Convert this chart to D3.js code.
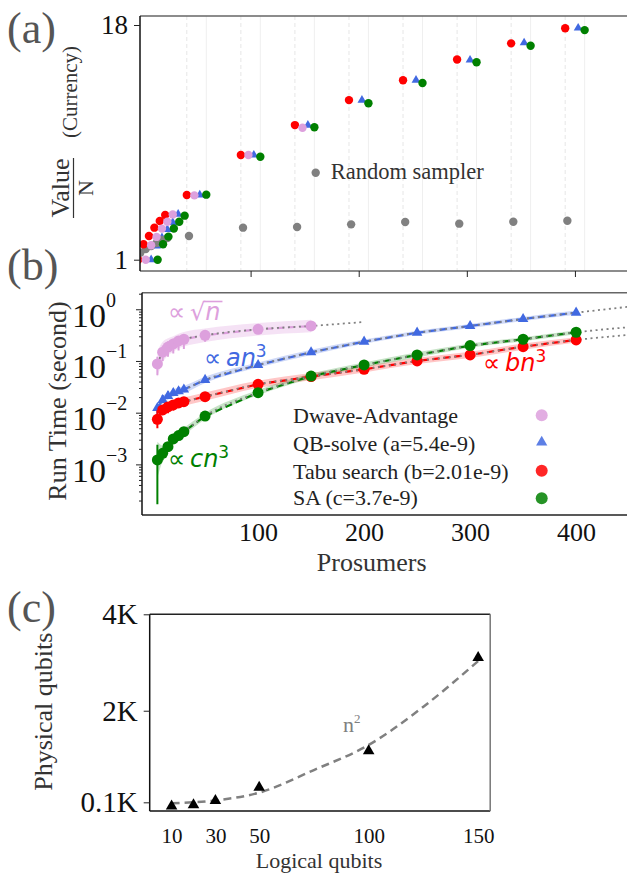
<!DOCTYPE html>
<html>
<head>
<meta charset="utf-8">
<script src="https://cdn.jsdelivr.net/npm/d3@7"></script>
<style>
    body { margin: 0; background: #fff; }
    text { font-family: "Liberation Serif", "Times New Roman", serif; }
    .math { font-family: "DejaVu Sans", sans-serif; font-style: italic; }
</style>
</head>
<body>
<div id="chart"></div>
<script>
// ---------------- data ----------------
// panel (a): value per prosumer, grouped by number of prosumers
const nA = [5, 10, 15, 20, 25, 30, 50, 100, 150, 200, 250, 300, 350, 400];
const tabuA = [1.0, 2.12, 2.72, 3.32, 3.80, 4.24, 5.69, 8.58, 10.75, 12.56, 14.0, 15.5, 16.67, 17.76];
const dwaveA = [1.0, 2.05, 2.65, 3.25, 3.75, 4.28, 5.66, 8.58, 10.56];
const qbsolveA = [1.0, 2.0, 2.6, 3.2, 3.7, 4.3, 5.69, 8.58, 10.75, 12.56, 14.0, 15.46, 16.71, 17.78];
const saA = [1.0, 2.12, 2.67, 3.26, 3.75, 4.19, 5.71, 8.46, 10.59, 12.33, 13.8, 15.3, 16.5, 17.63];
const randomA = [1.5, 1.77, 1.99, 2.21, 2.43, 2.57, 2.72, 3.32, 3.37, 3.56, 3.73, 3.61, 3.75, 3.82];

// panel (b): run time (s)
const nB = [5, 10, 15, 20, 25, 30, 50, 100, 150, 200, 250, 300, 350, 400];
const dwaveB = [0.0875, 0.148, 0.186, 0.213, 0.244, 0.263, 0.314, 0.41, 0.475];
const dwaveLo = [0.053, 0.1, 0.12, 0.14, 0.16, 0.17, 0.236, 0.38, 0.45];
const dwaveHi = [0.12, 0.2, 0.24, 0.27, 0.3, 0.32, 0.37, 0.44, 0.5];
const qbsolveB = [0.0123, 0.0176, 0.021, 0.024, 0.026, 0.028, 0.043, 0.0837, 0.147, 0.236, 0.352, 0.475, 0.649, 0.86];
const qbsolveLo = [0.0095, 0.0155, 0.019, 0.022, 0.024, 0.026, 0.041, 0.08, 0.142, 0.23, 0.345, 0.465, 0.64, 0.85];
const qbsolveHi = [0.0145, 0.022, 0.026, 0.029, 0.031, 0.032, 0.046, 0.088, 0.152, 0.242, 0.36, 0.485, 0.66, 0.87];
const tabuB = [0.00745, 0.0113, 0.0129, 0.0141, 0.0154, 0.0163, 0.0204, 0.0354, 0.05, 0.069, 0.1, 0.131, 0.189, 0.255];
const tabuLo = [0.005, 0.0092, 0.0098, 0.011, 0.0125, 0.0135, 0.019, 0.034, 0.048, 0.067, 0.097, 0.128, 0.185, 0.25];
const tabuHi = [0.0112, 0.0125, 0.0142, 0.0155, 0.0168, 0.0175, 0.0215, 0.037, 0.052, 0.071, 0.103, 0.134, 0.193, 0.26];
const saB = [0.00122, 0.00164, 0.0022, 0.0031, 0.0036, 0.0043, 0.0086, 0.0244, 0.051, 0.0837, 0.131, 0.198, 0.263, 0.359];
const saLo = [0.00017, 0.0012, 0.0019, 0.0028, 0.0033, 0.004, 0.0082, 0.0236, 0.049, 0.081, 0.127, 0.193, 0.257, 0.352];
const saHi = [0.0024, 0.0021, 0.0025, 0.0034, 0.0039, 0.0046, 0.009, 0.0252, 0.053, 0.086, 0.135, 0.203, 0.269, 0.366];

// shaded band half-width (decades)
const dwaveSpread = [0.25, 0.2, 0.17, 0.15, 0.14, 0.14, 0.13, 0.12, 0.12];
const qbsolveSpread = [0.08, 0.08, 0.07, 0.07, 0.07, 0.07, 0.06, 0.05, 0.05, 0.04, 0.04, 0.04, 0.04, 0.04];
const tabuSpread = [0.15, 0.1, 0.09, 0.09, 0.08, 0.08, 0.08, 0.07, 0.07, 0.06, 0.06, 0.06, 0.06, 0.05];
const saSpread = [0.35, 0.15, 0.1, 0.08, 0.07, 0.07, 0.06, 0.05, 0.05, 0.05, 0.05, 0.04, 0.04, 0.04];

// fit curves continued past the last point
const dwaveFitEnd = [200, 0.568];
const qbsolveFitEnd = [450, 1.12];
const tabuFitEnd = [450, 0.32];
const saFitEnd = [450, 0.45];

const legendB = ["Dwave-Advantage", "QB-solve (a=5.4e-9)", "Tabu search (b=2.01e-9)", "SA (c=3.7e-9)"];

// panel (c): embedding
const nC = [10, 20, 30, 50, 100, 150];
const physC = [20, 45, 135, 410, 1165, 3100];
const fitNC = [10, 30, 50, 75, 100, 125, 150];
const fitVC = [80, 140, 300, 770, 1290, 2083, 3030];

// ---------------- colours ----------------
const pinkC = "#DDA0DD", blueC = "#4169E1", redC = "#FF0000", greenC = "#008000", grayC = "#808080";

const W = 627, H = 873;
const svg = d3.select("#chart").append("svg").attr("width", W).attr("height", H);
const defs = svg.append("defs");

function clip(id, x0, y0, x1, y1) {
    defs.append("clipPath").attr("id", id)
        .append("rect").attr("x", x0).attr("y", y0).attr("width", x1 - x0).attr("height", y1 - y0);
}
function hline(g, x0, x1, y, c, w) {
    return g.append("line").attr("x1", x0).attr("x2", x1).attr("y1", y).attr("y2", y).attr("stroke", c).attr("stroke-width", w);
}
function vline(g, x, y0, y1, c, w) {
    return g.append("line").attr("x1", x).attr("x2", x).attr("y1", y0).attr("y2", y1).attr("stroke", c).attr("stroke-width", w);
}
function styleAxis(g, size) {
    g.select(".domain").remove();
    g.selectAll("text").attr("font-family", "Liberation Serif, serif").attr("font-size", size).attr("fill", "#111");
    g.selectAll("line").attr("stroke", "#222").attr("stroke-width", 1);
}
const tri = (s) => d3.symbol().type(d3.symbolTriangle).size(s);

// ======================= panel (a) =======================
const a = { l: 140, r: 628, t: 16, b: 271 };
const xa = d3.scaleLinear().domain([-2.3, 449]).range([140, 627.9]);
const ya = d3.scaleLinear().domain([1, 18]).range([259.7, 25]);
const dodgeA = { tabu: -9, dwave: -2, qbsolve: 3, sa: 9, random: -7 };
clip("clipA", a.l, a.t, a.r, a.b);

const gA = svg.append("g");
const gridA = gA.append("g");
nA.filter(n => n >= 50).forEach(n => {
    vline(gridA, xa(n + dodgeA.tabu), a.t, a.b, "#e6e6e6", 1).attr("stroke-dasharray", "4,3");
    vline(gridA, xa(n + dodgeA.sa), a.t, a.b, "#efefef", 1);
});

const ptsA = gA.append("g").attr("clip-path", "url(#clipA)");
ptsA.selectAll(".qa").data(qbsolveA.map((v, i) => ({ n: nA[i], v })))
    .join("path").attr("d", tri(34))
    .attr("transform", d => `translate(${xa(d.n + dodgeA.qbsolve)},${ya(d.v)})`)
    .attr("fill", blueC);
[[randomA, grayC, "random"], [tabuA, redC, "tabu"], [dwaveA, pinkC, "dwave"], [saA, greenC, "sa"]].forEach(([arr, c, k]) => {
    ptsA.append("g").selectAll("circle").data(arr.map((v, i) => ({ n: nA[i], v })))
        .join("circle")
        .attr("cx", d => xa(d.n + dodgeA[k]))
        .attr("cy", d => ya(d.v))
        .attr("r", 4.2)
        .attr("fill", c);
});

hline(gA, a.l, a.r, a.t, "#666", 1.5);
hline(gA, a.l, a.r, a.b, "#666", 1.5);
vline(gA, a.l, a.t, a.b, "#111", 1.5);

const yAxA = gA.append("g").attr("transform", `translate(${a.l},0)`)
    .call(d3.axisLeft(ya).tickValues([1, 18]).tickSize(6).tickPadding(6).tickFormat(d3.format("d")));
styleAxis(yAxA, 27);
const xAxA = gA.append("g").attr("transform", `translate(0,${a.b})`)
    .call(d3.axisBottom(xa).tickValues([100, 200, 300, 400]).tickSize(6).tickFormat(""));
styleAxis(xAxA, 20);

// random sampler legend
gA.append("circle").attr("cx", 315.7).attr("cy", 172.7).attr("r", 4.2).attr("fill", grayC);
gA.append("text").attr("x", 330.7).attr("y", 178.5).attr("font-size", 22.5).attr("fill", "#333").text("Random sampler");

// y label: Value / N (Currency)
gA.append("text").attr("transform", "translate(69,188) rotate(-90)")
    .attr("text-anchor", "middle").attr("font-size", 26).attr("fill", "#333").text("Value");
vline(gA, 73.5, 158, 218, "#333", 1.2);
gA.append("text").attr("transform", "translate(93,188) rotate(-90)")
    .attr("text-anchor", "middle").attr("font-size", 22).attr("fill", "#333").text("N");
gA.append("text").attr("transform", "translate(77,92) rotate(-90)")
    .attr("text-anchor", "middle").attr("font-size", 21).attr("fill", "#333").text("(Currency)");

// ======================= panel (b) =======================
const b = { l: 142, r: 628, t: 292.7, b: 515 };
const xb = d3.scaleLinear().domain([-9.5, 448]).range([142, 627]);
const yb = d3.scaleLog().domain([1.05e-4, 2.09]).range([515, 292.7]);
clip("clipB", b.l, b.t, b.r, b.b);

const gB = svg.append("g");
const plotB = gB.append("g").attr("clip-path", "url(#clipB)");

const seriesB = [
    { v: dwaveB, lo: dwaveLo, hi: dwaveHi, s: dwaveSpread, end: dwaveFitEnd, c: pinkC, band: 0.3, m: "circle" },
    { v: qbsolveB, lo: qbsolveLo, hi: qbsolveHi, s: qbsolveSpread, end: qbsolveFitEnd, c: blueC, band: 0.25, m: "tri" },
    { v: tabuB, lo: tabuLo, hi: tabuHi, s: tabuSpread, end: tabuFitEnd, c: redC, band: 0.22, m: "circle" },
    { v: saB, lo: saLo, hi: saHi, s: saSpread, end: saFitEnd, c: greenC, band: 0.22, m: "circle" }
];
seriesB.forEach(sr => {
    sr.pts = sr.v.map((v, i) => ({ n: nB[i], v, lo: sr.lo[i], hi: sr.hi[i], s: sr.s[i] }));
});

const areaB = d3.area().x(d => xb(d.n))
    .y0(d => yb(d.v / Math.pow(10, d.s))).y1(d => yb(d.v * Math.pow(10, d.s)))
    .curve(d3.curveMonotoneX);
const lineB = d3.line().x(d => xb(d.n)).y(d => yb(d.v));
const fitB = d3.line().x(d => xb(d.n)).y(d => yb(d.v)).curve(d3.curveMonotoneX);

seriesB.forEach(sr => {
    plotB.append("path").datum(sr.pts).attr("d", areaB).attr("fill", sr.c).attr("fill-opacity", sr.band);
});
seriesB.forEach(sr => {
    plotB.append("path").datum(sr.pts).attr("d", lineB)
        .attr("fill", "none").attr("stroke", sr.c).attr("stroke-width", 2.2).attr("stroke-dasharray", "7,4");
    plotB.append("path").datum(sr.pts.concat([{ n: sr.end[0], v: sr.end[1] }]))
        .attr("d", fitB)
        .attr("fill", "none").attr("stroke", grayC).attr("stroke-width", 1.8).attr("stroke-dasharray", "2,3.5");
});
seriesB.forEach(sr => {
    const g = plotB.append("g");
    g.selectAll("line").data(sr.pts).join("line")
        .attr("x1", d => xb(d.n)).attr("x2", d => xb(d.n))
        .attr("y1", d => yb(d.lo)).attr("y2", d => yb(d.hi))
        .attr("stroke", sr.c).attr("stroke-width", 2);
    if (sr.m === "tri") {
        g.selectAll("path").data(sr.pts).join("path").attr("d", tri(48))
            .attr("transform", d => `translate(${xb(d.n)},${yb(d.v)})`).attr("fill", sr.c);
    } else {
        g.selectAll("circle").data(sr.pts).join("circle")
            .attr("cx", d => xb(d.n)).attr("cy", d => yb(d.v)).attr("r", 5.5).attr("fill", sr.c);
    }
});

hline(gB, b.l, b.r, b.t, "#666", 1.5);
hline(gB, b.l, b.r, b.b, "#222", 1.5);
vline(gB, b.l, b.t, b.b, "#111", 1.5);

const majorsB = [1e-3, 1e-2, 1e-1, 1];
const minorsB = [];
[-4, -3, -2, -1, 0].forEach(e => d3.range(2, 10).forEach(m => {
    const v = m * Math.pow(10, e);
    if (v > 1.05e-4 && v < 2.09) minorsB.push(v);
}));
const yMinB = gB.append("g").attr("transform", `translate(${b.l},0)`)
    .call(d3.axisLeft(yb).tickValues(minorsB).tickSize(3).tickFormat(""));
styleAxis(yMinB, 10);
const yMajB = gB.append("g").attr("transform", `translate(${b.l},0)`)
    .call(d3.axisLeft(yb).tickValues(majorsB).tickSize(6).tickFormat(""));
styleAxis(yMajB, 10);
majorsB.forEach(v => {
    const e = Math.round(Math.log10(v));
    const t = gB.append("text").attr("x", 72).attr("y", yb(v) + 17.5).attr("fill", "#111");
    t.append("tspan").attr("font-size", 34).text("10");
    t.append("tspan").attr("font-size", 20).attr("dy", -20).text(e === 0 ? "0" : "\u2212" + Math.abs(e));
});

const xAxB = gB.append("g").attr("transform", `translate(0,${b.b})`)
    .call(d3.axisBottom(xb).tickValues([100, 200, 300, 400]).tickSize(0).tickPadding(8));
styleAxis(xAxB, 26);

gB.append("text").attr("transform", "translate(66,401) rotate(-90)")
    .attr("text-anchor", "middle").attr("font-size", 26).attr("fill", "#333").text("Run Time (second)");
gB.append("text").attr("x", 371.7).attr("y", 571).attr("text-anchor", "middle")
    .attr("font-size", 26).attr("fill", "#333").text("Prosumers");

// scaling annotations
function scaling(x, y, c, coef) {
    const t = gB.append("text").attr("class", "math").attr("x", x).attr("y", y)
        .attr("font-size", 24).attr("fill", c);
    t.append("tspan").attr("font-style", "normal").text("\u221D\u2009");
    t.append("tspan").text(coef + "n");
    t.append("tspan").attr("font-style", "normal").attr("font-size", 17).attr("dy", -9).text("3");
}
scaling(204, 366, blueC, "a");
scaling(168, 467, greenC, "c");
scaling(483, 371, redC, "b");

const sq = gB.append("text").attr("class", "math").attr("x", 168).attr("y", 320)
    .attr("font-size", 24).attr("fill", pinkC);
sq.append("tspan").attr("font-style", "normal").text("\u221D\u2009\u221A");
sq.append("tspan").text("n");
const sqStart = sq.node().getSubStringLength(0, 3);
const sqLen = sq.node().getComputedTextLength();
hline(gB, 168 + sqStart - 1.5, 168 + sqLen + 2, 301.5, pinkC, 1.6);

// legend
const legY = [423, 451, 478.5, 505];
const legMarkY = [415.3, 442.3, 470.7, 498.3];
legendB.forEach((lab, i) => {
    gB.append("text").attr("x", 293).attr("y", legY[i]).attr("font-size", 22).attr("fill", "#222").text(lab);
    const sr = seriesB[i];
    if (sr.m === "tri") {
        gB.append("path").attr("d", tri(55)).attr("transform", `translate(541.7,${legMarkY[i]})`)
            .attr("fill", sr.c).attr("fill-opacity", 0.85);
    } else {
        gB.append("circle").attr("cx", 541.7).attr("cy", legMarkY[i]).attr("r", 6)
            .attr("fill", sr.c).attr("fill-opacity", 0.85);
    }
});

// ======================= panel (c) =======================
const c = { l: 149.7, r: 490.2, t: 614.3, b: 811 };
const xc = d3.scaleLinear().domain([0, 155.5]).range([c.l, c.r]);
const yc = d3.scaleLinear().domain([-80, 4000]).range([c.b, c.t]);
const gC = svg.append("g");

gC.append("path").datum(fitNC.map((n, i) => ({ n, v: fitVC[i] })))
    .attr("d", d3.line().x(d => xc(d.n)).y(d => yc(d.v)).curve(d3.curveMonotoneX))
    .attr("fill", "none").attr("stroke", grayC).attr("stroke-width", 2.5).attr("stroke-dasharray", "8,5");
gC.selectAll(".tc").data(nC.map((n, i) => ({ n, v: physC[i] })))
    .join("path").attr("d", tri(58))
    .attr("transform", d => `translate(${xc(d.n)},${yc(d.v)})`).attr("fill", "#000");

hline(gC, c.l, c.r, c.t, "#222", 1.5);
hline(gC, c.l, c.r, c.b, "#111", 1.5);
vline(gC, c.l, c.t, c.b, "#111", 1.5);
vline(gC, c.r, c.t, c.b, "#777", 1.5);

const yAxC = gC.append("g").attr("transform", `translate(${c.l},0)`)
    .call(d3.axisLeft(yc).tickValues([100, 2000, 4000]).tickSize(6).tickPadding(6)
        .tickFormat(d => d === 100 ? "0.1K" : (d / 1000) + "K"));
styleAxis(yAxC, 29);
const xAxC = gC.append("g").attr("transform", `translate(0,${c.b})`)
    .call(d3.axisBottom(xc).tickValues([10, 30, 50, 100, 150]).tickSize(0).tickPadding(17));
styleAxis(xAxC, 21);

const n2 = gC.append("text").attr("x", 343).attr("y", 731.7).attr("font-size", 22).attr("fill", grayC);
n2.append("tspan").text("n");
n2.append("tspan").attr("font-size", 13).attr("dy", -9).text("2");

gC.append("text").attr("transform", "translate(52,711.7) rotate(-90)")
    .attr("text-anchor", "middle").attr("font-size", 26).attr("fill", "#333").text("Physical qubits");
gC.append("text").attr("x", 319).attr("y", 868).attr("text-anchor", "middle")
    .attr("font-size", 22).attr("fill", "#333").text("Logical qubits");

// panel letters
[["(a)", 43], ["(b)", 280], ["(c)", 621.7]].forEach(([t, y]) => {
    svg.append("text").attr("x", 7).attr("y", y).attr("font-size", 44).attr("fill", "#555").text(t);
});
</script>
</body>
</html>
